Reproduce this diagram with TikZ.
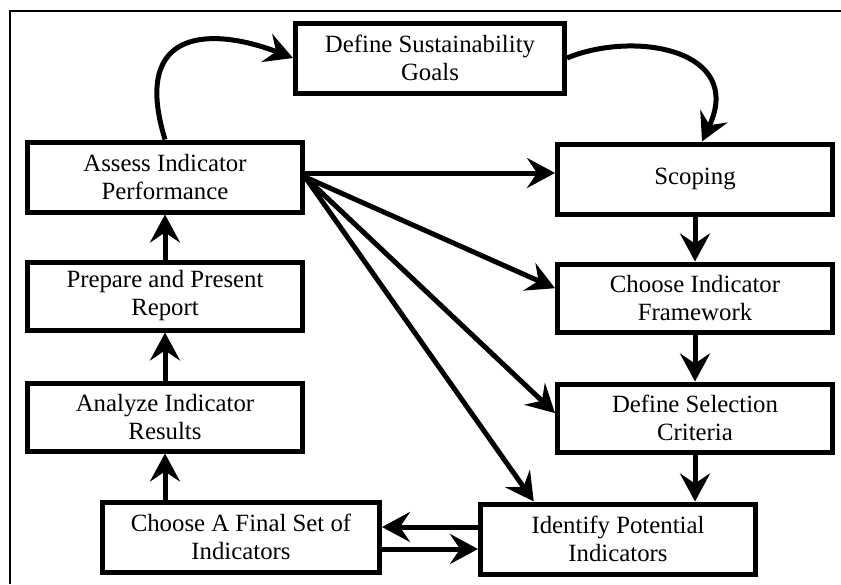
\documentclass[tikz,border=0pt]{standalone}
\usepackage{fontspec}
\setmainfont{Liberation Serif}
\usetikzlibrary{arrows.meta}

\begin{document}
\begin{tikzpicture}[x=0.5pt,y=-0.5pt,
  boite/.style={draw, line width=2.5pt, align=center, inner sep=0pt,
    minimum width=137.5pt, minimum height=35pt, font=\fontsize{12.4}{14}\selectfont},
  fleche/.style={line width=2.5pt, -{Stealth[length=14pt,width=15pt,inset=5pt]}}]
 \useasboundingbox (0,0) rectangle (841,584);

	% Cadre
 \draw[line width=0.8pt] (10,584) -- (10,11) -- (841,11);

	% Etapes
 \node[boite, minimum width=134.5pt] (goals) at (430,58) {Define Sustainability\\Goals};
 \node[boite] (assess) at (165,177) {Assess Indicator\\Performance};
 \node[boite] (scoping) at (695,179) {Scoping};
 \node[boite, minimum height=34pt] (framework) at (695,298) {Choose Indicator\\Framework};
 \node[boite, minimum height=34pt] (criteria) at (695,418) {Define Selection\\Criteria};
 \node[boite] (identify) at (618,539) {Identify Potential\\Indicators};
 \node[boite, minimum width=138.5pt] (final) at (241,537) {Choose A Final Set of\\Indicators};
 \node[boite, minimum height=34pt] (analyze) at (165,417) {Analyze Indicator\\Results};
 \node[boite, minimum height=34pt] (report) at (165,296) {Prepare and Present\\Report};

	% Boucle du haut
 \draw[fleche] (assess.north) .. controls (130,25) and (215,28) .. (goals.west);
 \draw[fleche] (goals.east) .. controls (635,30) and (745,50) .. ([xshift=3.5pt]scoping.north);

	% Colonne de droite
 \draw[fleche] (scoping.south) -- (framework.north);
 \draw[fleche] (framework.south) -- (criteria.north);
 \draw[fleche] (criteria.south) -- (criteria.south |- identify.north);

	% Depuis Assess
 \draw[fleche] ([yshift=2pt]assess.east) -- ([yshift=2pt]assess.east -| scoping.west);
 \draw[fleche] (assess.east) -- (framework.176);
 \draw[fleche] (assess.east) -- (criteria.178);
 \draw[fleche] (assess.east) -- (identify.156);

	% Allers-retours du bas
 \draw[fleche] ([yshift=6pt]identify.west) -- ([yshift=6pt]identify.west -| final.east);
 \draw[fleche] ([yshift=-6pt]final.east) -- ([yshift=-6pt]final.east -| identify.west);

	% Colonne de gauche
 \draw[fleche] (analyze.south |- final.north) -- (analyze.south);
 \draw[fleche] (analyze.north) -- (report.south);
 \draw[fleche] (report.north) -- (assess.south);

\end{tikzpicture}
\end{document}
